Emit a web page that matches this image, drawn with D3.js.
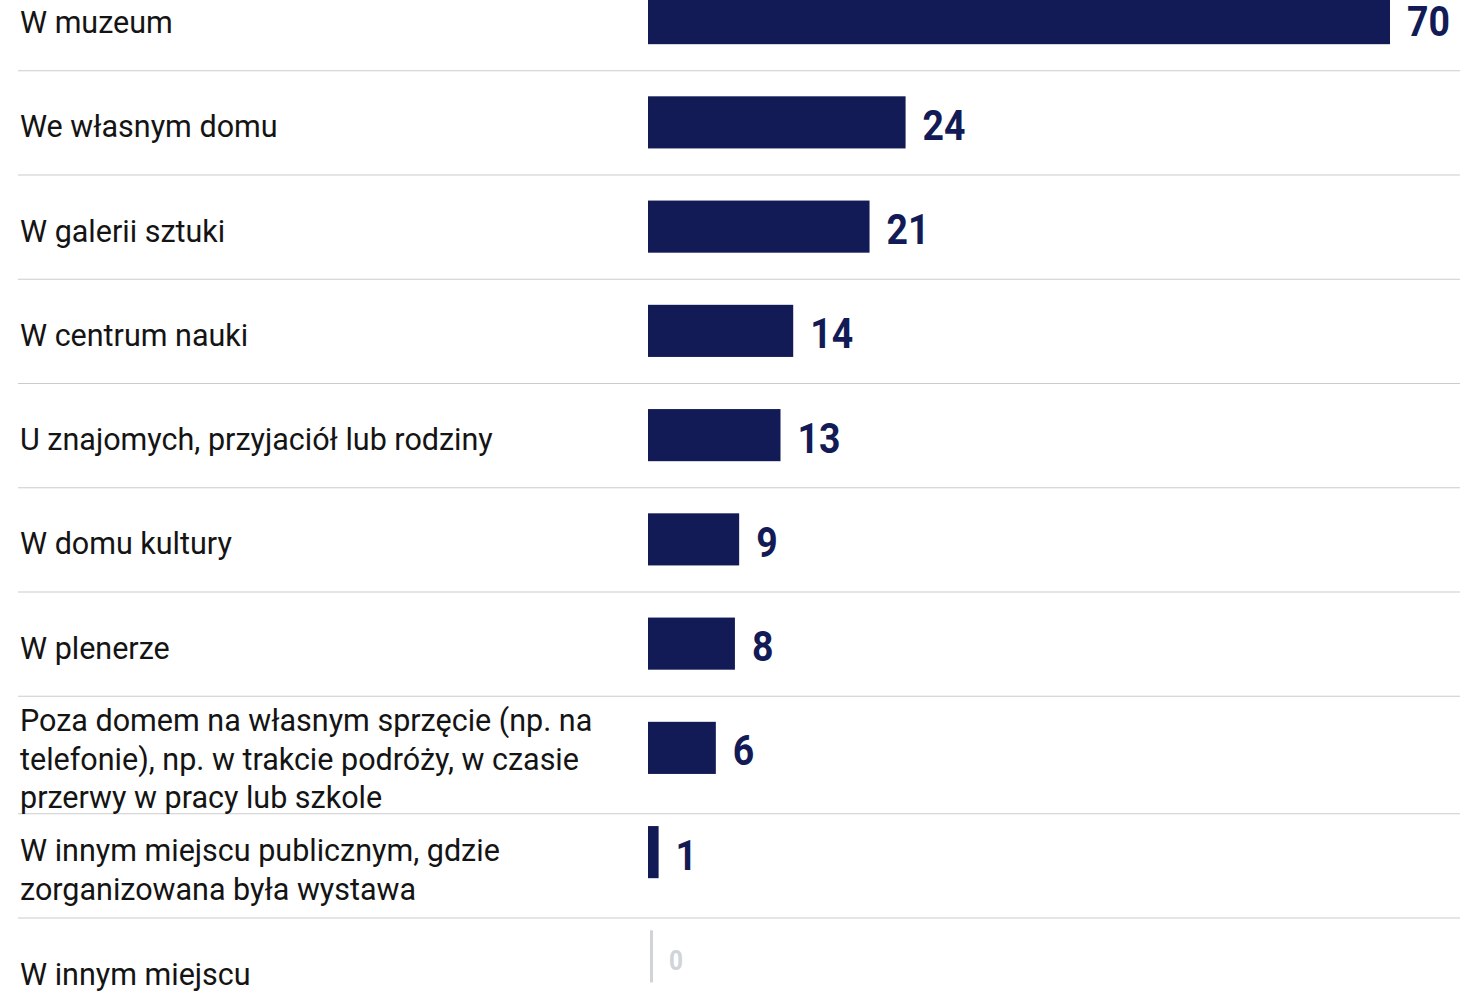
<!DOCTYPE html>
<html><head><meta charset="utf-8">
<script src="https://cdn.jsdelivr.net/npm/d3@7"></script>
<style>html,body{margin:0;padding:0;background:#fff;overflow:hidden}</style>
</head><body>
<svg id="chart" width="1460" height="991"></svg>
<script>
const categories = [
  "W muzeum",
  "We własnym domu",
  "W galerii sztuki",
  "W centrum nauki",
  "U znajomych, przyjaciół lub rodziny",
  "W domu kultury",
  "W plenerze",
  "Poza domem na własnym sprzęcie (np. na\ntelefonie), np. w trakcie podróży, w czasie\nprzerwy w pracy lub szkole",
  "W innym miejscu publicznym, gdzie\nzorganizowana była wystawa",
  "W innym miejscu"
];
const values = [70, 24.3, 20.9, 13.7, 12.5, 8.6, 8.2, 6.4, 1, 0];
const valueLabels = ["70", "24", "21", "14", "13", "9", "8", "6", "1", "0"];

const W = 1460, H = 991;
const svg = d3.select("#chart");
const navy = "#121b56", zeroCol = "#d0d3d8";
const y0 = -34, step = 104.25, lineH = 38.5;

const y = d3.scaleBand().domain(d3.range(categories.length))
  .range([y0, y0 + step * categories.length]).paddingInner(0.5).paddingOuter(0.25);
const x = d3.scaleLinear().domain([0, 70]).range([648, 1390]);

// row layout for labels & separators
let cur = y0;
const rows = categories.map((c, i) => {
  const lines = c.split("\n");
  const h = Math.max(step, lines.length * lineH + 2);
  const r = {i, lines, top: cur, h, center: cur + h / 2};
  cur += h;
  return r;
});

// separators
svg.append("g").selectAll("line").data(rows.slice(0, -1)).join("line")
  .attr("x1", 18).attr("x2", W)
  .attr("y1", d => d.top + d.h + 0.5).attr("y2", d => d.top + d.h + 0.5)
  .attr("stroke", "#cccccc").attr("stroke-width", 1.2);

// labels
const lg = svg.append("g").selectAll("text").data(rows).join("text")
  .attr("font-family", "Roboto, sans-serif").attr("font-size", 30.5).attr("fill", "#141414");
lg.each(function(d) {
  const t = d3.select(this);
  d.lines.forEach((ln, k) => {
    t.append("tspan").attr("x", 20)
      .attr("y", d.center + (k - (d.lines.length - 1) / 2) * lineH + 15)
      .text(ln);
  });
});

// bars
svg.append("g").selectAll("rect").data(values).join("rect")
  .attr("x", x(0))
  .attr("y", (d, i) => y(i))
  .attr("height", y.bandwidth())
  .attr("width", d => d > 0 ? x(d) - x(0) : 3)
  .attr("transform", d => d > 0 ? null : "translate(2,0)")
  .attr("fill", d => d > 0 ? navy : zeroCol);

// value labels
svg.append("g").selectAll("text").data(values).join("text")
  .attr("transform", (d, i) => {
    const cx = (d > 0 ? x(d) : x(0) + 5) + (d > 0 ? 17 : 16);
    const cy = y(i) + y.bandwidth() / 2 + (d > 0 ? 17.5 : 14);
    return `translate(${cx},${cy}) scale(0.87,1)`;
  })
  .attr("font-family", "Roboto, sans-serif").attr("font-weight", 700)
  .attr("font-size", d => d > 0 ? 43 : 28)
  .attr("fill", d => d > 0 ? navy : zeroCol)
  .text((d, i) => valueLabels[i]);
</script>
</body></html>
